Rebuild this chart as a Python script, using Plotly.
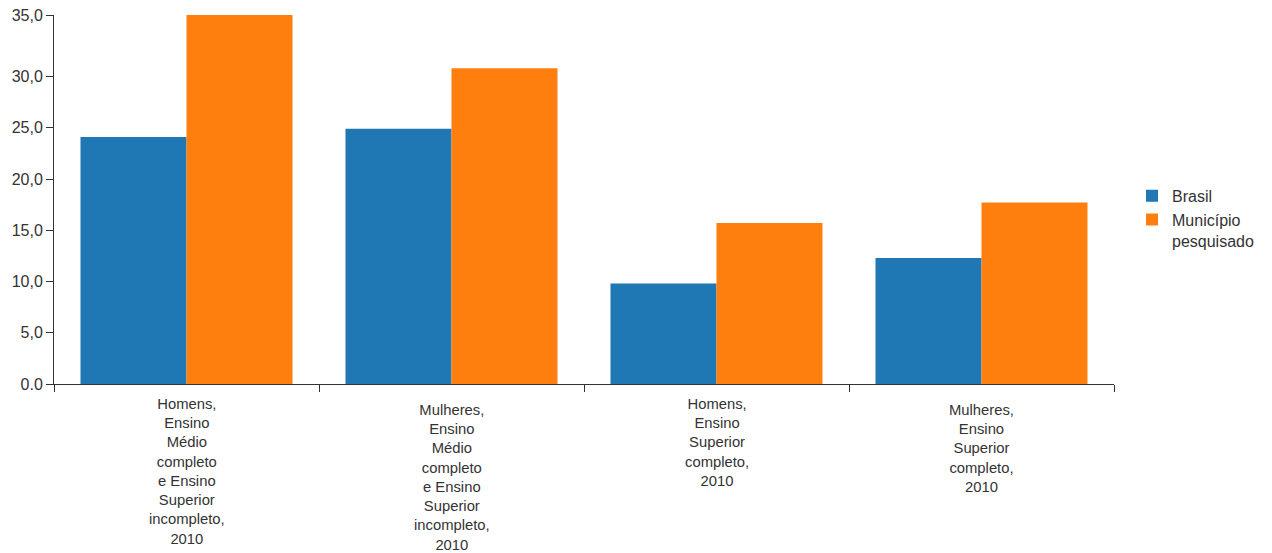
import plotly.graph_objects as go

categories = ["H_EM", "M_EM", "H_ES", "M_ES"]
category_labels = [
    "Homens,<br>Ensino<br>Médio<br>completo<br>e Ensino<br>Superior<br>incompleto,<br>2010",
    "Mulheres,<br>Ensino<br>Médio<br>completo<br>e Ensino<br>Superior<br>incompleto,<br>2010",
    "Homens,<br>Ensino<br>Superior<br>completo,<br>2010",
    "Mulheres,<br>Ensino<br>Superior<br>completo,<br>2010",
]
label_offsets = [-10, -16, -10, -16]
brasil = [24.1, 24.9, 9.8, 12.3]
municipio = [36.0, 30.8, 15.7, 17.7]
series_names = ["Brasil", "Município<br>pesquisado"]
y_tickvals = [0, 5, 10, 15, 20, 25, 30, 36.0]
y_ticktext = ["0.0", "5,0", "10,0", "15,0", "20,0", "25,0", "30,0", "35,0"]

FONT = "Liberation Sans, Arial, sans-serif"
TXT = "#333333"
AX = "#333333"

fig = go.Figure()
fig.add_trace(go.Bar(x=categories, y=brasil, name=series_names[0],
                     marker=dict(color="#1f77b4", line=dict(width=0))))
fig.add_trace(go.Bar(x=categories, y=municipio, name=series_names[1],
                     marker=dict(color="#ff7f0e", line=dict(width=0))))

for c, lab, off in zip(categories, category_labels, label_offsets):
    fig.add_annotation(x=c, xref="x", y=0, yref="paper", yanchor="top",
                       text=lab, showarrow=False, yshift=off, align="center",
                       font=dict(family=FONT, size=14.8, color=TXT))

fig.update_layout(
    width=1264, height=545,
    margin=dict(l=46, r=158, t=7, b=169, autoexpand=False),
    paper_bgcolor="white", plot_bgcolor="white",
    barmode="group", bargap=0.2, bargroupgap=0,
    font=dict(family=FONT, size=16, color=TXT),
    showlegend=True,
    legend=dict(x=1.017, xanchor="left", y=0.556, yanchor="top",
                font=dict(family=FONT, size=16, color=TXT),
                valign="top", bgcolor="rgba(0,0,0,0)", tracegroupgap=0),
    xaxis=dict(type="category", showticklabels=False, ticks="outside",
               tickson="boundaries", ticklen=7, tickcolor=AX,
               showline=True, linecolor=AX, linewidth=1, showgrid=False,
               zeroline=False, automargin=False),
    yaxis=dict(range=[0, 36.0], tickvals=y_tickvals, ticktext=y_ticktext,
               ticks="outside", ticklen=7, tickcolor=AX, showline=True,
               linecolor=AX, linewidth=1, showgrid=False, zeroline=False,
               automargin=False, ticklabeloverflow="allow",
               tickfont=dict(family=FONT, size=16, color=TXT)),
)

fig.write_html("out.html")
